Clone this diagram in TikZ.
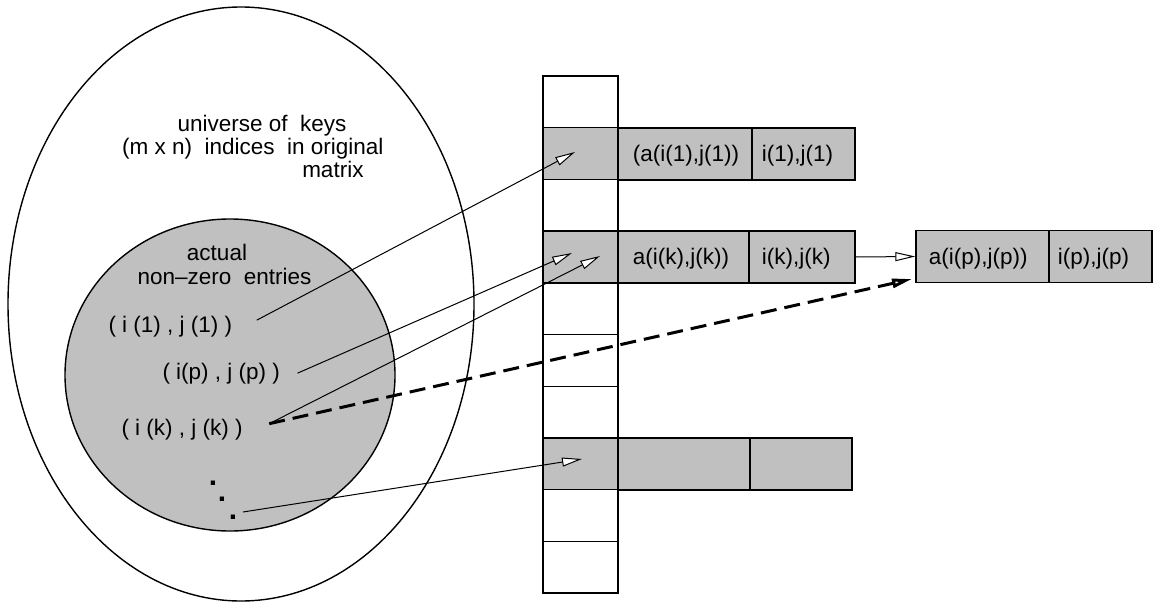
\documentclass[tikz,border=0pt]{standalone}
\usepackage{fontspec}
\setmainfont{Liberation Sans}
\usetikzlibrary{arrows.meta}
\definecolor{keygray}{RGB}{192,192,192}

\begin{document}
\begin{tikzpicture}[x=1pt,y=-1pt,line width=1pt,
	font=\fontsize{22.5}{27}\selectfont,
	slot/.style={draw,line width=1.4pt,minimum width=75pt,minimum height=51.7pt,inner sep=0pt},
	pair/.style={draw,line width=1.4pt,fill=keygray,minimum height=52pt,inner sep=0pt},
	entry/.style={anchor=west,inner sep=0pt},
	txt/.style={anchor=base,inner sep=0pt},
	dot/.style={inner sep=0pt,font=\fontsize{30}{30}\selectfont\bfseries},
	ptr/.style={-{Triangle[length=20pt,width=9pt,fill=white]}}]
	\useasboundingbox (0,0) rectangle (1159,613);
	\draw[line width=1.4pt] (241,304) ellipse [x radius=233pt,y radius=297pt];
	\filldraw[line width=1.4pt,fill=keygray] (230,375) ellipse [x radius=165pt,y radius=156pt];
	\foreach \i/\c in {0/white,1/keygray,2/white,3/keygray,4/white,5/white,6/white,7/keygray,8/white,9/white}
		\node[slot,fill=\c] (s\i) at (580.5,101.85+51.7*\i) {};
	\node[pair,minimum width=134pt] (a1) at (685,154) {};
	\node[pair,minimum width=103pt] (b1) at (803.5,154) {};
	\node[pair,minimum width=131pt] (a2) at (683.5,257) {};
	\node[pair,minimum width=106pt] (b2) at (802,257) {};
	\node[pair,minimum width=132pt] (a3) at (684,464) {};
	\node[pair,minimum width=102pt] (b3) at (801,464) {};
	\node[pair,minimum width=133pt] (ap) at (982.5,256.5) {};
	\node[pair,minimum width=103pt] (bp) at (1100.5,256.5) {};
	\node[entry] (ea1) at ([xshift=15pt,yshift=-2pt]a1.west) {(a(i(1),j(1))};
	\node[entry] (eb1) at ([xshift=10pt,yshift=-2pt]b1.west) {i(1),j(1)};
	\node[entry] (ea2) at ([xshift=15pt,yshift=-2pt]a2.west) {a(i(k),j(k))};
	\node[entry] (eb2) at ([xshift=13pt,yshift=-2pt]b2.west) {i(k),j(k)};
	\node[entry] (eap) at ([xshift=13pt,yshift=-2pt]ap.west) {a(i(p),j(p))};
	\node[entry] (ebp) at ([xshift=9pt,yshift=-2pt]bp.west) {i(p),j(p)};
	\node[anchor=base east,inner sep=0pt] (u1) at (347,131) {universe of\ \ keys};
	\node[anchor=base east,inner sep=0pt] (u2) at (384,154) {(m x n)\ \ indices\ \ in original};
	\node[anchor=base east,inner sep=0pt] (u3) at (364,177) {matrix};
	\node[txt] (n1) at (217,260) {actual};
	\node[txt] (n2) at (224.5,284) {non--zero\ \ entries};
	\node[anchor=base west,inner sep=0pt] (k1) at (108,332) {( i (1) , j (1) )};
	\node[anchor=base west,inner sep=0pt] (kp) at (162,379) {( i(p) , j (p) )};
	\node[anchor=base west,inner sep=0pt] (kk) at (121,435.5) {( i (k) , j (k) )};
	\node[dot] (d1) at (213,483) {.};
	\node[dot] (d2) at (222,499) {.};
	\node[dot] (d3) at (233,517) {.};
	\coordinate (h1) at (575,152);
	\coordinate (hp) at (572,253);
	\coordinate (hk) at (600,256);
	\coordinate (hd) at (582,459);
	\coordinate (hx) at (912,279);
	\draw[ptr] ([xshift=24pt,yshift=6pt]k1.east) -- (h1);
	\draw[ptr] ([xshift=17pt]kp.east) -- (hp);
	\draw[ptr] ([xshift=26pt,yshift=6pt]kk.east) -- (hk);
	\draw[ptr,line width=3pt,dash pattern=on 16pt off 8pt] ([xshift=26pt,yshift=6pt]kk.east) -- (hx);
	\draw[ptr] ([xshift=10pt,yshift=5pt]d3.center) -- (hd);
	\draw[ptr] (b2.east) -- (ap.west);
\end{tikzpicture}
\end{document}
